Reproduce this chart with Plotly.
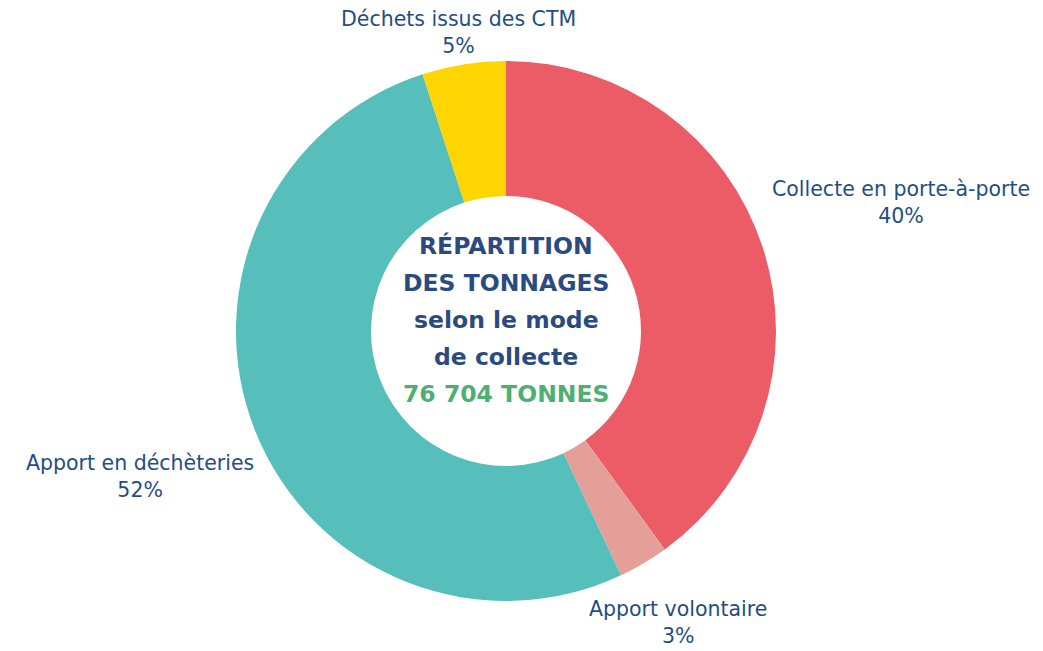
import math
import plotly.graph_objects as go

categories = ["Collecte en porte-à-porte", "Apport volontaire", "Apport en déchèteries", "Déchets issus des CTM"]
shares = [40, 3, 52, 5]
colors = ["#EB5C66", "#E49F98", "#56BFBB", "#FFD500"]
center_lines = ["RÉPARTITION", "DES TONNAGES", "selon le mode", "de collecte"]
total_label = "76 704 TONNES"

W, H = 1043, 651
OFF = 8            # page body margin of the exported html
CX, CY = 506 - OFF, 331 - OFF   # donut centre in figure pixels (from top-left)
R = 270            # outer radius in pixels
LABEL_FONT = dict(family="DejaVu Sans", size=20.5, color="#1F4E86")
CHAR_W = 0.5 * LABEL_FONT["size"]

def to_paper(px, py):
    return px / W, 1 - py / H

fig = go.Figure()
fig.add_trace(go.Pie(
    labels=categories,
    values=shares,
    hole=0.5,
    sort=False,
    direction="clockwise",
    rotation=0,
    marker=dict(colors=colors, line=dict(width=0)),
    textinfo="none",
    domain=dict(x=[(CX - R) / W, (CX + R) / W], y=[1 - (CY + R) / H, 1 - (CY - R) / H]),
    showlegend=False,
    hoverinfo="label+percent",
))

# outside labels placed along each slice's mid-angle ray
total = sum(shares)
cum = 0
for cat, v in zip(categories, shares):
    mid = (cum + v / 2) / total * 2 * math.pi
    cum += v
    s, c = math.sin(mid), math.cos(mid)
    hw = CHAR_W * len(cat) / 2
    d = R + 24 + abs(s) * hw - 9 * max(c, 0) ** 2
    px, py = CX + d * s, CY - d * c
    x, y = to_paper(px, py)
    pct = round(v / total * 100)
    fig.add_annotation(
        text=f"{cat}<br>{pct}%", x=x, y=y, xref="paper", yref="paper",
        xanchor="center", yanchor="middle", showarrow=False, align="center",
        font=LABEL_FONT,
    )

# centre text
line_gap = 37
first_y = 246 - OFF
for i, line in enumerate(center_lines + [total_label]):
    col = "#4DAF72" if line == total_label else "#2A4A80"
    x, y = to_paper(CX, first_y + i * line_gap)
    fig.add_annotation(
        text=f"<b>{line}</b>", x=x, y=y, xref="paper", yref="paper",
        xanchor="center", yanchor="middle", showarrow=False,
        font=dict(family="DejaVu Sans", size=23.5, color=col),
    )

fig.update_layout(
    width=W, height=H,
    margin=dict(l=0, r=0, t=0, b=0),
    paper_bgcolor="white", plot_bgcolor="white",
)
fig.write_html("out.html")
